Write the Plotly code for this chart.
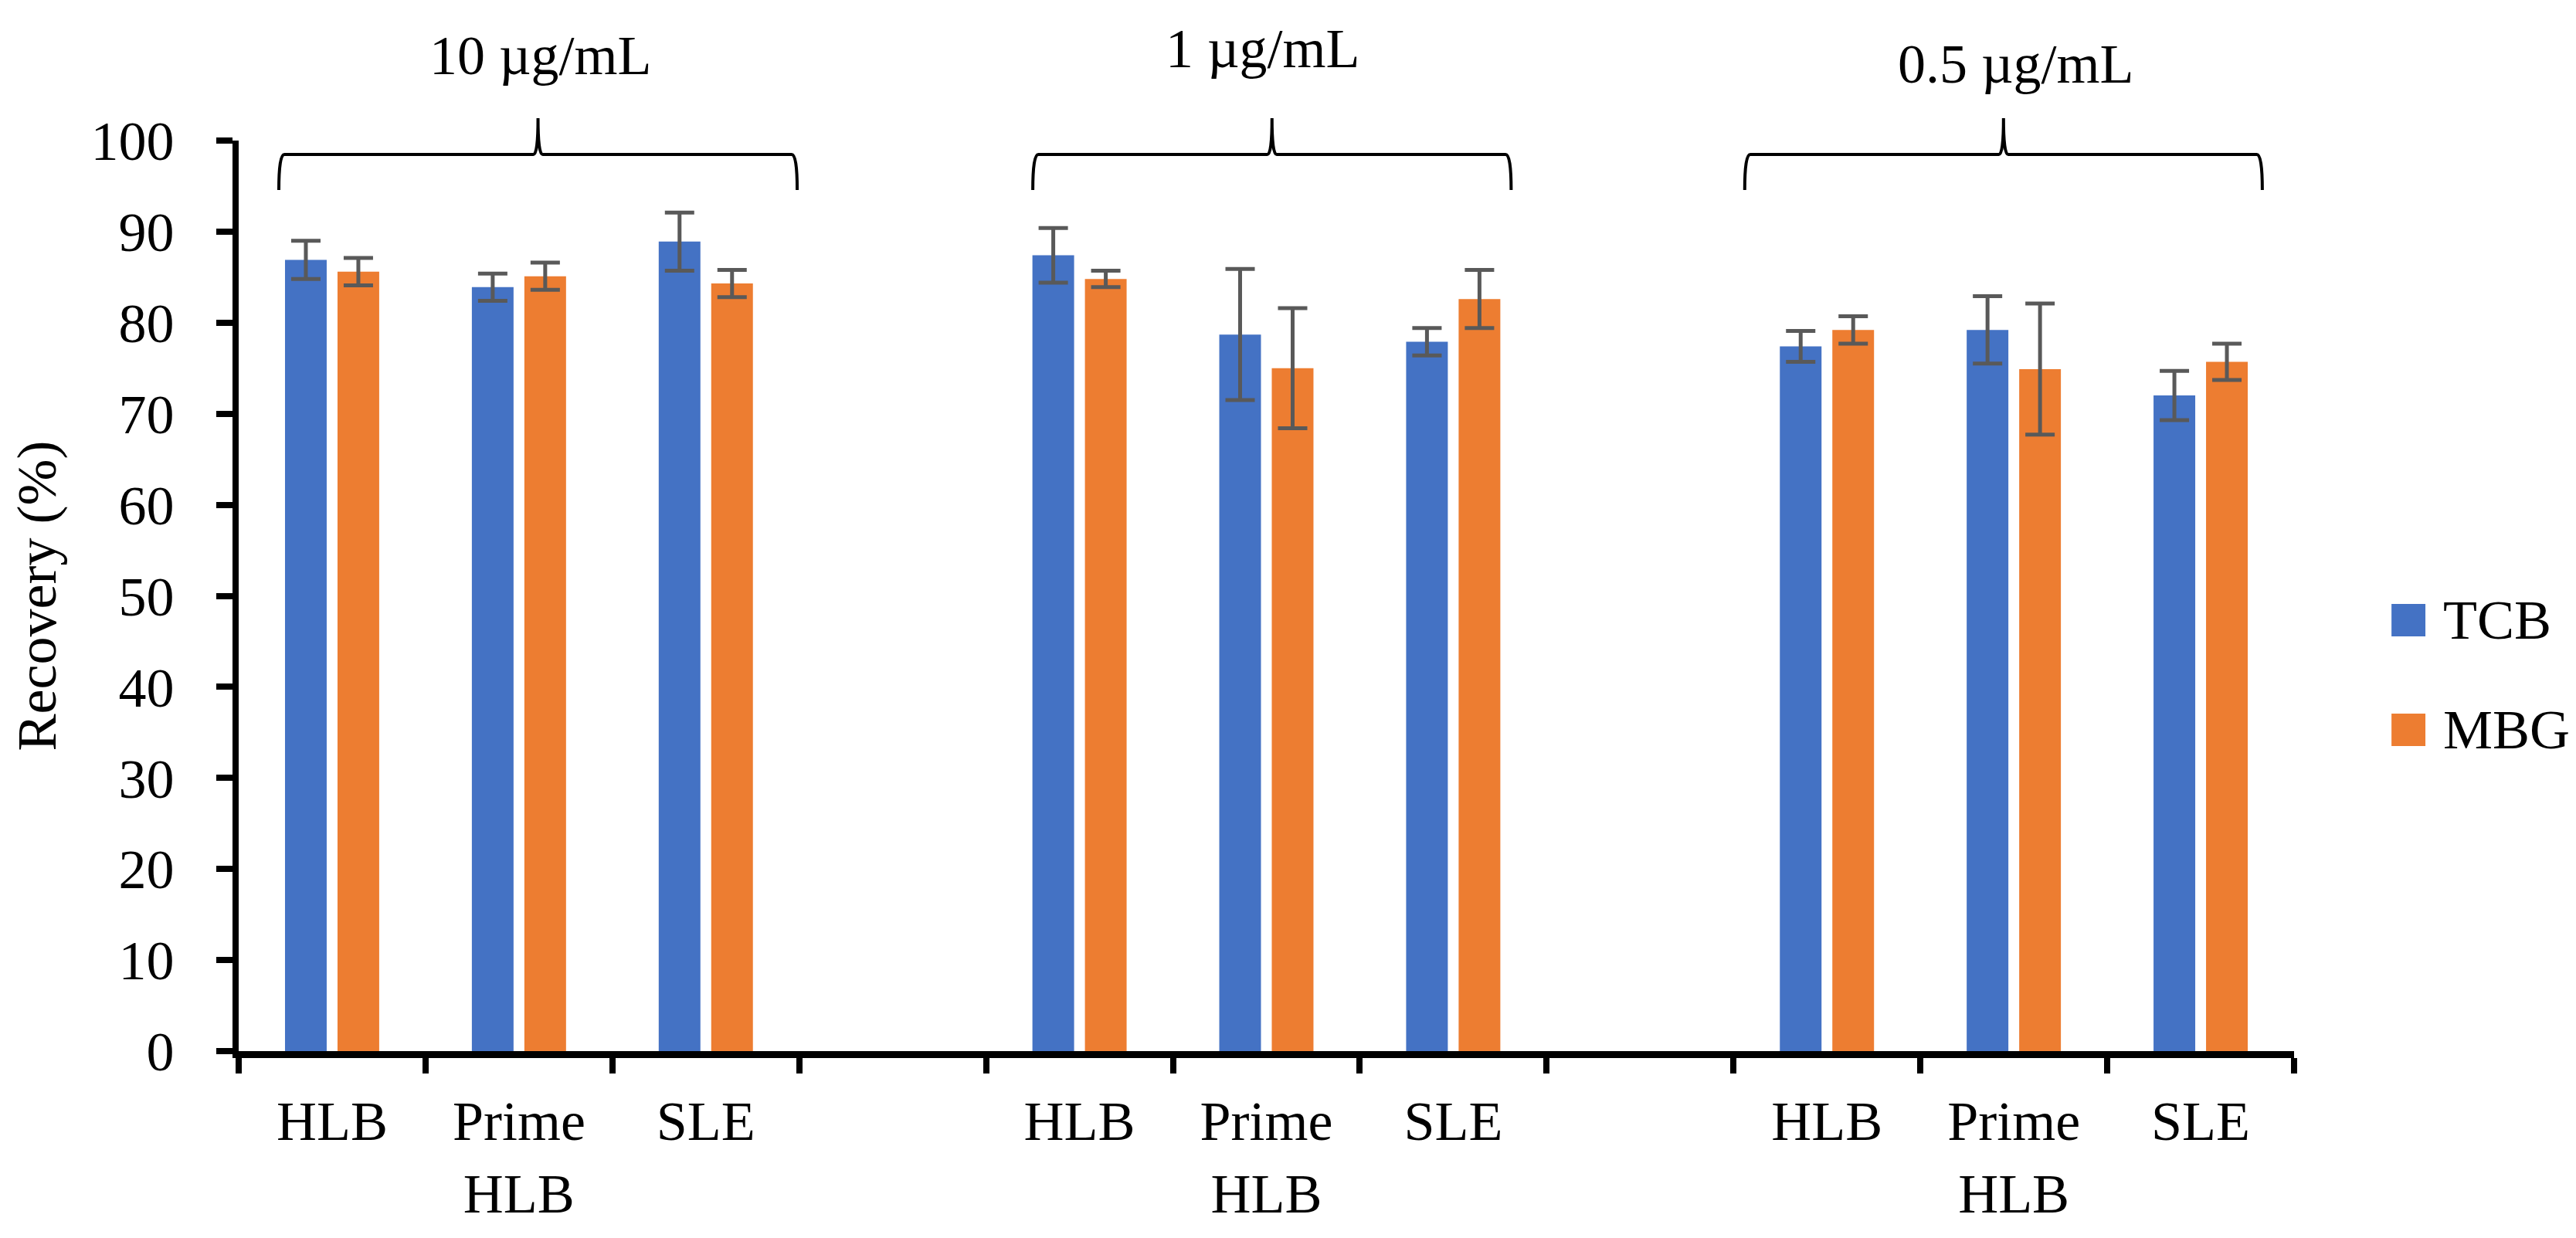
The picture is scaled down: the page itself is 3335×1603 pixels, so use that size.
import plotly.graph_objects as go

# ---------------- data ----------------
concentrations = ["10 µg/mL", "1 µg/mL", "0.5 µg/mL"]
methods = ["HLB", "Prime<br>HLB", "SLE"]
series_names = ["TCB", "MBG"]

tcb_mean = [86.9, 83.9, 88.9, 87.4, 78.7, 77.9, 77.4, 79.2, 72.0]
tcb_sd = [2.1, 1.5, 3.2, 3.0, 7.2, 1.5, 1.7, 3.7, 2.7]
mbg_mean = [85.6, 85.1, 84.3, 84.8, 75.0, 82.6, 79.2, 74.9, 75.7]
mbg_sd = [1.5, 1.5, 1.5, 0.9, 6.6, 3.2, 1.5, 7.2, 2.0]

y_ticks = [0, 10, 20, 30, 40, 50, 60, 70, 80, 90, 100]
y_title = "Recovery (%)"

# ---------------- styling ----------------
FONT = "Liberation Serif"
FS = 72
colors = ["#4472C4", "#ED7D31"]
err_color = "#595959"

# category slot positions (an empty slot separates concentration groups)
x_pos = [g * (len(methods) + 1) + m for g in range(len(concentrations)) for m in range(len(methods))]
x_labels = [methods[m] for g in range(len(concentrations)) for m in range(len(methods))]

fig = go.Figure()
for name, mean, sd, col in zip(series_names, [tcb_mean, mbg_mean], [tcb_sd, mbg_sd], colors):
    fig.add_trace(go.Bar(
        x=x_pos, y=mean, name=name,
        marker=dict(color=col, line=dict(width=0)),
        error_y=dict(type="data", array=sd, visible=True,
                     color=err_color, thickness=5, width=19),
        showlegend=False,
    ))

# ---------------- brackets and group labels ----------------
bracket_spans = [(-0.285, 2.489), (3.75, 6.31), (7.56, 10.33)]
label_x = [1.116, 4.98, 9.01]
label_y = [1.093, 1.101, 1.084]
y_line, y_end, y_peak = 0.9847, 0.9457, 1.0246
for (xl, xr), txt, lx, ly in zip(bracket_spans, concentrations, label_x, label_y):
    xm = (xl + xr) / 2
    path = (f"M {xl},{y_end} Q {xl},{y_line} {xl + 0.03},{y_line} "
            f"L {xm - 0.025},{y_line} Q {xm},{y_line} {xm},{y_peak} "
            f"Q {xm},{y_line} {xm + 0.025},{y_line} "
            f"L {xr - 0.03},{y_line} Q {xr},{y_line} {xr},{y_end}")
    fig.add_shape(type="path", path=path, xref="x", yref="paper",
                  line=dict(color="black", width=4))
    fig.add_annotation(x=lx, y=ly, xref="x", yref="paper", text=txt,
                       showarrow=False, xanchor="center", yanchor="middle",
                       font=dict(family=FONT, size=FS, color="black"))

# ---------------- custom legend ----------------
leg_rects = [(0.4555, 0.4911), (0.335, 0.3707)]
for name, col, (y0, y1) in zip(series_names, colors, leg_rects):
    fig.add_shape(type="rect", xref="paper", yref="paper",
                  x0=1.0474, x1=1.0639, y0=y0, y1=y1,
                  fillcolor=col, line=dict(width=0))
    fig.add_annotation(x=1.0718, y=(y0 + y1) / 2, xref="paper", yref="paper",
                       text=name, showarrow=False, xanchor="left", yanchor="middle",
                       font=dict(family=FONT, size=FS, color="black"))

fig.update_layout(
    width=3335, height=1603, autosize=False,
    margin=dict(l=301, r=373, t=174, b=250),
    paper_bgcolor="white", plot_bgcolor="white",
    font=dict(family=FONT, size=FS, color="black"),
    barmode="group", bargap=0.438, bargroupgap=0.206,
    showlegend=False,
)
fig.update_xaxes(
    range=[-0.5, 10.5], tickmode="array", tickvals=x_pos, ticktext=x_labels,
    ticks="", showline=True, linewidth=9, linecolor="black",
    showgrid=False, zeroline=False, ticklabelstandoff=20,
    tickfont=dict(family=FONT, size=FS, color="black"),
    minor=dict(tick0=0.5, dtick=1, ticks="outside", ticklen=20,
               tickwidth=8, tickcolor="black", showgrid=False),
)
fig.update_yaxes(
    range=[0, 100], tickmode="array", tickvals=y_ticks,
    ticks="outside", ticklen=21, tickwidth=8, tickcolor="black",
    showline=True, linewidth=8, linecolor="black",
    showgrid=False, zeroline=False, ticklabelstandoff=40,
    tickfont=dict(family=FONT, size=FS, color="black"),
    title=dict(text=y_title, standoff=40, font=dict(family=FONT, size=FS, color="black")),
)

fig.write_html("out.html")
